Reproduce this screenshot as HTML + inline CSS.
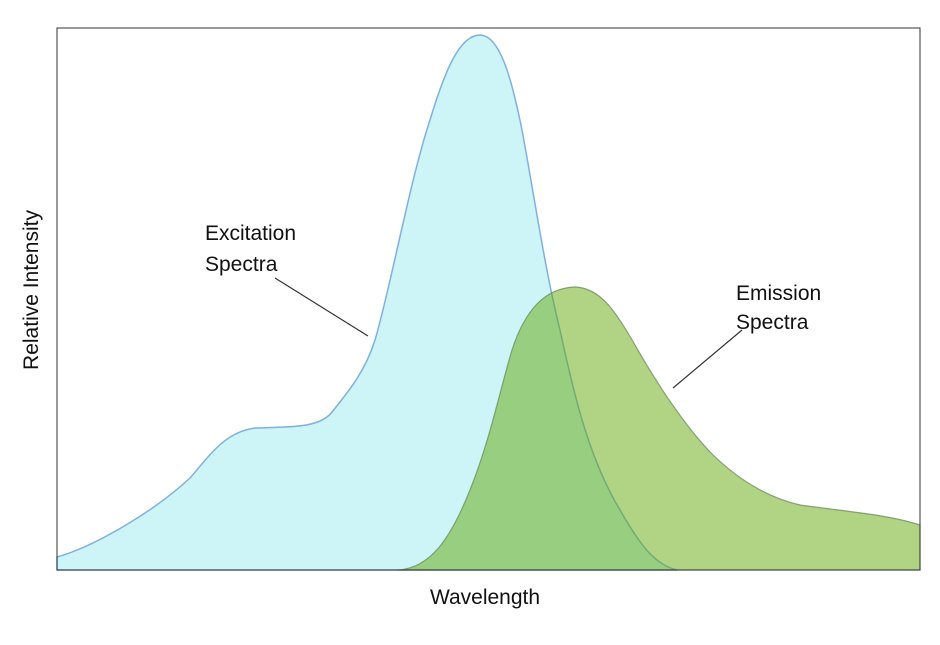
<!DOCTYPE html>
<html><head><meta charset="utf-8"><style>
body{margin:0;background:#fff}
svg text{font-family:"Liberation Sans",sans-serif;fill:#111}
</style></head><body>
<svg width="940" height="640" viewBox="0 0 940 640" xmlns="http://www.w3.org/2000/svg">
<rect x="0" y="0" width="940" height="640" fill="#fff"/>
<path d="M57,557 C90,548 150,515 190,478 C210,455 225,432 255,428 C290,427 320,428 332,412 C348,392 365,372 375,340 C390,290 410,180 430,120 C445,70 460,35 480,35 C500,35 512,80 522,130 C535,200 545,270 560,330 C575,400 590,460 620,510 C640,545 655,565 677,570 L57,570 Z" fill="#cdf5f7" stroke="#7fb0e0" stroke-width="1.5"/>
<path d="M398,570 C430,568 450,540 470,490 C490,440 500,390 512,350 C525,310 545,288 575,287 C600,288 615,310 635,345 C655,380 680,420 710,452 C740,482 770,498 800,505 C850,512 890,515 920,525 L920,570 Z" fill="rgb(99,167,10)" fill-opacity="0.5" stroke="#6f8f5c" stroke-width="1.2" stroke-opacity="0.8"/>
<rect x="57" y="28" width="863" height="542" fill="none" stroke="#333" stroke-width="1"/>
<line x1="275" y1="278" x2="368" y2="336" stroke="#333" stroke-width="1.2"/>
<line x1="742" y1="330" x2="673" y2="388" stroke="#333" stroke-width="1.2"/>
<text x="205" y="240" font-size="21">Excitation</text>
<text x="205" y="271" font-size="21">Spectra</text>
<text x="736" y="300" font-size="21">Emission</text>
<text x="736" y="329" font-size="21">Spectra</text>
<text x="485" y="604" font-size="21" text-anchor="middle">Wavelength</text>
<text transform="translate(38,290) rotate(-90)" font-size="21" text-anchor="middle">Relative Intensity</text>
</svg>
</body></html>
